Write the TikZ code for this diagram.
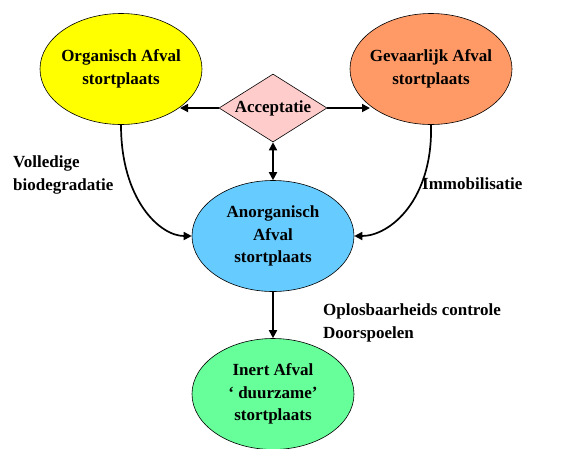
\documentclass[tikz,border=0pt]{standalone}
\usepackage{fontspec}
\setmainfont{Liberation Serif}
\usetikzlibrary{shapes.geometric,arrows.meta}
\begin{document}
\begin{tikzpicture}[x=1pt,y=-1pt,
  txt/.style={font=\bfseries\fontsize{17}{22.5}\selectfont},
  site/.style={txt,ellipse,draw,line width=0.6pt,minimum width=162pt,minimum height=111pt,
    align=center,inner xsep=-8pt,inner ysep=0pt},
  gate/.style={txt,diamond,draw,line width=0.6pt,fill=pink1,minimum width=108pt,minimum height=68pt,
    aspect=1.6,inner sep=0pt},
  tip/.tip={Triangle[length=8pt,width=8pt]},
  link/.style={line width=1.7pt,-tip},
  note/.style={txt,align=left,anchor=base west,inner sep=0pt}]
\definecolor{pink1}{HTML}{FFCCCC}
\definecolor{orgyellow}{HTML}{FFFF00}
\definecolor{gevorange}{HTML}{FF9966}
\definecolor{anblue}{HTML}{66CCFF}
\definecolor{inertgreen}{HTML}{66FF99}
\useasboundingbox (0,0) rectangle (565,448);
\node[site,fill=orgyellow] (org) at (121,69) {Organisch Afval\\stortplaats};
\node[site,fill=gevorange] (gev) at (431,69) {Gevaarlijk Afval\\stortplaats};
\node[gate] (acc) at (273,108) {Acceptatie};
\node[site,fill=anblue] (anorg) at (273,236) {Anorganisch\\Afval\\stortplaats};
\node[site,fill=inertgreen] (inert) at (273,394) {Inert Afval\\‘ duurzame’\\stortplaats};
\draw[link] (acc.west) -- (180,108) coordinate (orgin);
\draw[link] (acc.east) -- (370,108) coordinate (gevin);
\draw[link,tip-tip] (acc.south) -- (anorg.north);
\draw[link] (org.south) .. controls (121,200) and (160,236) .. (anorg.west);
\draw[link] (gev.south) .. controls (433,200) and (390,236) .. (anorg.east);
\draw[link] (anorg.south) -- (inert.north);
% multi-line notes are placed by the baseline of their last line
\node[note] (vb) at (13,190) {Volledige\\biodegradatie};
\node[note] (imm) at (422,189) {Immobilisatie};
\node[note] (opl) at (323,338) {Oplosbaarheids controle\\Doorspoelen};
\end{tikzpicture}
\end{document}
